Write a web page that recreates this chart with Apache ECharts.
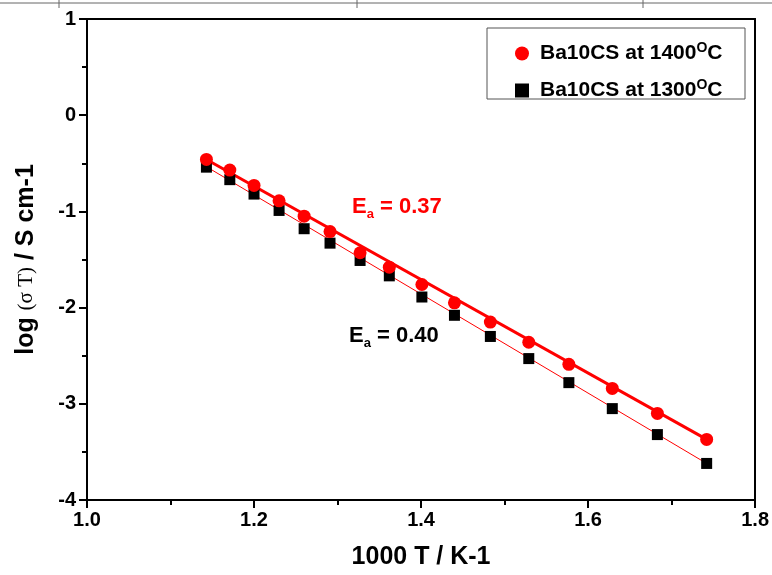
<!DOCTYPE html>
<html><head><meta charset="utf-8">
<script src="https://cdn.jsdelivr.net/npm/echarts@6/dist/echarts.min.js"></script>
<style>html,body{margin:0;padding:0;background:#fff}#c{width:772px;height:575px}</style>
</head><body><div id="c"></div>
<script>
const xVals = [1.143,1.171,1.200,1.230,1.260,1.291,1.327,1.362,1.401,1.440,1.483,1.529,1.577,1.629,1.683,1.742];
const red1400 = [-0.46,-0.57,-0.73,-0.89,-1.05,-1.21,-1.43,-1.58,-1.76,-1.95,-2.15,-2.36,-2.59,-2.84,-3.10,-3.37];
const black1300 = [-0.54,-0.67,-0.82,-0.99,-1.18,-1.33,-1.51,-1.67,-1.89,-2.08,-2.30,-2.53,-2.78,-3.05,-3.32,-3.62];
const fitRed = [[1.143,-0.46],[1.742,-3.37]];
const fitBlack = [[1.140,-0.52],[1.742,-3.62]];
const seriesNames = ['Ba10CS at 1400', 'Ba10CS at 1300'];

const F = 'Liberation Sans, Arial, sans-serif';
const chart = echarts.init(document.getElementById('c'));
const frame = {show:true,onZero:false,lineStyle:{color:'#000',width:2}};
chart.setOption({
  animation:false,
  backgroundColor:'#fff',
  grid:{left:87,right:15,top:19,bottom:74,show:false},
  xAxis:[{
    type:'value',min:1.0,max:1.8,interval:0.2,
    axisLine:frame,
    axisTick:{show:true,length:8,lineStyle:{color:'#000',width:2}},
    minorTick:{show:true,splitNumber:2,length:5,lineStyle:{color:'#000',width:2}},
    axisLabel:{color:'#000',fontFamily:F,fontWeight:'bold',fontSize:20,margin:10,
      formatter:v=>v.toFixed(1)},
    splitLine:{show:false},
    name:'1000 T / K-1',nameLocation:'middle',nameGap:45,
    nameTextStyle:{color:'#000',fontFamily:F,fontWeight:'bold',fontSize:25}
  },{
    type:'value',min:1.0,max:1.8,position:'top',
    axisLine:frame,axisTick:{show:false},axisLabel:{show:false},splitLine:{show:false}
  }],
  yAxis:[{
    type:'value',min:-4,max:1,interval:1,
    axisLine:frame,
    axisTick:{show:true,length:8,lineStyle:{color:'#000',width:2}},
    minorTick:{show:true,splitNumber:2,length:5,lineStyle:{color:'#000',width:2}},
    axisLabel:{color:'#000',fontFamily:F,fontWeight:'bold',fontSize:20,margin:11},
    splitLine:{show:false},
    name:'{b|log }{s|(σ T)}{b| / S cm-1}',nameLocation:'middle',nameGap:48,nameRotate:90,
    nameTextStyle:{color:'#000',rich:{
      b:{fontFamily:F,fontWeight:'bold',fontSize:25,color:'#000'},
      s:{fontFamily:'Liberation Serif, Times New Roman, serif',fontSize:21,color:'#000'}}}
  },{
    type:'value',min:-4,max:1,position:'right',
    axisLine:frame,axisTick:{show:false},axisLabel:{show:false},splitLine:{show:false}
  }],
  legend:{
    orient:'vertical',left:510,top:36,itemGap:14,itemWidth:14,itemHeight:14,
    data:[{name:seriesNames[0],icon:'circle'},{name:seriesNames[1],icon:'rect'}],
    formatter:n=>'{f|'+n+'}{sup|O}{a|C}',
    textStyle:{color:'#000',fontFamily:F,fontWeight:'bold',fontSize:21,
      rich:{
        f:{fontFamily:F,fontWeight:'bold',fontSize:21,color:'#000',padding:[0,0,0,6]},
        a:{fontFamily:F,fontWeight:'bold',fontSize:21,color:'#000'},
        sup:{fontFamily:F,fontWeight:'bold',fontSize:14,color:'#000',padding:[0,0,11,0]}}}
  },
  graphic:[
    {type:'rect',shape:{x:487,y:28,width:258,height:71},style:{fill:'none',stroke:'#555',lineWidth:1}},
    {type:'line',shape:{x1:0,y1:3,x2:772,y2:3},style:{stroke:'#666',lineWidth:1}},
    {type:'line',shape:{x1:59,y1:0,x2:59,y2:8},style:{stroke:'#666',lineWidth:1}},
    {type:'line',shape:{x1:357,y1:0,x2:357,y2:8},style:{stroke:'#666',lineWidth:1}},
    {type:'line',shape:{x1:643,y1:0,x2:643,y2:8},style:{stroke:'#666',lineWidth:1}},
    {type:'text',left:352,top:196,style:{text:'{e|E}{sub|a}{e| = 0.37}',
      rich:{e:{fontFamily:F,fontWeight:'bold',fontSize:22,fill:'#f00'},
            sub:{fontFamily:F,fontWeight:'bold',fontSize:13,fill:'#f00',padding:[14,0,0,0]}}}},
    {type:'text',left:349,top:325,style:{text:'{e|E}{sub|a}{e| = 0.40}',
      rich:{e:{fontFamily:F,fontWeight:'bold',fontSize:22,fill:'#000'},
            sub:{fontFamily:F,fontWeight:'bold',fontSize:13,fill:'#000',padding:[14,0,0,0]}}}}
  ],
  series:[
    {type:'line',data:fitRed,symbol:'none',silent:true,lineStyle:{color:'#f00',width:3},z:2},
    {type:'line',data:fitBlack,symbol:'none',silent:true,lineStyle:{color:'#f00',width:1},z:2},
    {name:seriesNames[1],type:'scatter',symbol:'rect',symbolSize:11,itemStyle:{color:'#000',opacity:1},
      data:xVals.map((x,i)=>[x,black1300[i]]),z:3},
    {name:seriesNames[0],type:'scatter',symbol:'circle',symbolSize:13,itemStyle:{color:'#f00',opacity:1},
      data:xVals.map((x,i)=>[x,red1400[i]]),z:4}
  ]
});
</script></body></html>
